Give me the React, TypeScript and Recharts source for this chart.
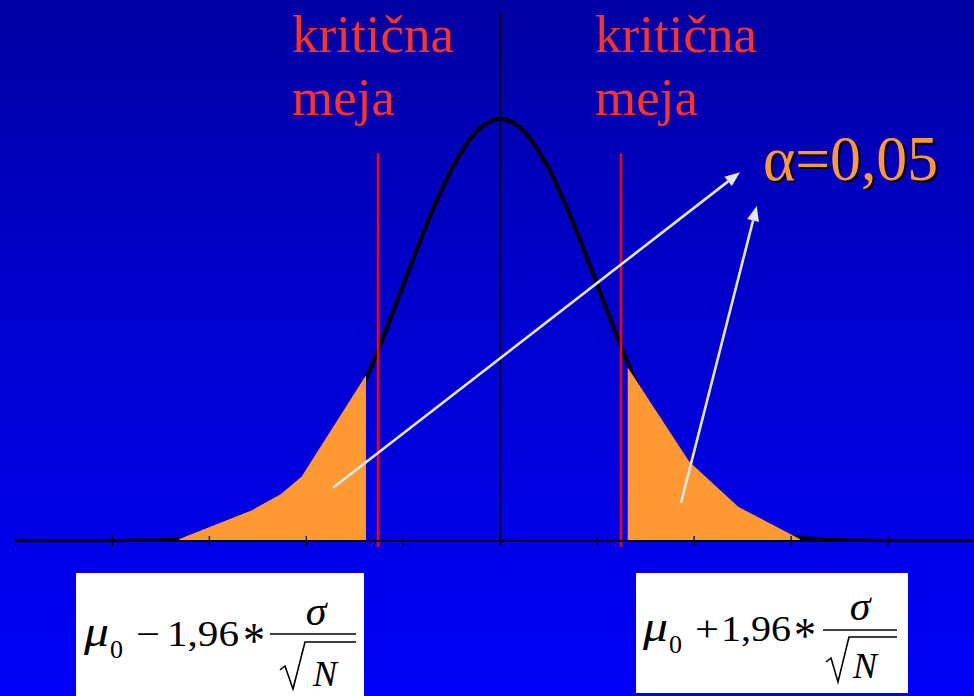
import React from 'react';
import { ComposedChart, Area, XAxis, YAxis, ReferenceLine } from 'recharts';

// z (in sigma units) and relative curve height
const zPoints = [-5, -4.75, -4.5, -4.25, -4, -3.75, -3.5, -3.25, -3, -2.75, -2.5, -2.25, -2, -1.75, -1.5, -1.25, -1, -0.75, -0.5, -0.25, 0, 0.25, 0.5, 0.75, 1, 1.25, 1.5, 1.75, 2, 2.25, 2.5, 2.75, 3, 3.25, 3.5, 3.75, 4, 4.25, 4.5, 4.75, 5];
const curveHeights = [0, 0, 0, 0, 0, 0.001, 0.002, 0.005, 0.011, 0.023, 0.044, 0.08, 0.135, 0.216, 0.325, 0.458, 0.607, 0.755, 0.882, 0.969, 1.0, 0.969, 0.882, 0.755, 0.607, 0.458, 0.325, 0.216, 0.135, 0.08, 0.044, 0.023, 0.011, 0.005, 0.002, 0.001, 0, 0, 0, 0, 0];

// shaded rejection regions (polygon vertices)
const leftTailX = [-3.31, -2.56, -2.265, -2.05, -1.385, -1.385];
const leftTailY = [0.005, 0.073, 0.111, 0.152, 0.393, 0.005];
const rightTailX = [1.315, 1.315, 1.95, 2.455, 3.09];
const rightTailY = [0.005, 0.411, 0.188, 0.081, 0.005];

const tickValues = [-5, -4, -3, -2, -1, 0, 1, 2, 3, 4, 5];

// critical limits
const criticalLow = -1.261;
const criticalHigh = 1.245;
const criticalTop = 0.919;
const criticalBottom = -0.0142;

// arrows pointing to alpha label: [fromX, fromY, toX, toY]
const arrowLeft = [-1.725, 0.126, 2.473, 0.874];
const arrowRight = [1.864, 0.09, 2.646, 0.794];

const labelTop = 'kritična';
const labelBottom = 'meja';
const alphaLabel = 'α=0,05';

const curveData = zPoints.map((z, i) => ({ z, y: curveHeights[i] }));
const leftTail = leftTailX.map((z, i) => ({ z, y: leftTailY[i] }));
const rightTail = rightTailX.map((z, i) => ({ z, y: rightTailY[i] }));

const CrossTick = (props: any) => {
  const { x, y } = props;
  return <line x1={x} x2={x} y1={y - 5} y2={y + 5} stroke="#000" strokeWidth={1.3} />;
};

const ArrowShape = (props: any) => {
  const { x1, y1, x2, y2 } = props;
  const ang = Math.atan2(y2 - y1, x2 - x1);
  const len = 15;
  const hw = 6;
  const bx = x2 - len * Math.cos(ang);
  const by = y2 - len * Math.sin(ang);
  const px = -Math.sin(ang) * hw;
  const py = Math.cos(ang) * hw;
  return (
    <g>
      <line x1={x1} y1={y1} x2={bx} y2={by} stroke="#E6E6E6" strokeWidth={2.6} />
      <path d={`M${x2},${y2} L${bx + px},${by + py} L${bx - px},${by - py} Z`} fill="#E6E6E6" />
    </g>
  );
};

const serif = "'Liberation Serif', 'DejaVu Serif', 'Times New Roman', Times, serif";
const fs = { fontFamily: serif };

export default function App() {
  return (
    <div
      style={{
        position: 'absolute',
        left: 0,
        top: 0,
        width: 974,
        height: 696,
        overflow: 'hidden',
        fontFamily: serif,
        background: 'linear-gradient(to bottom, #0000A2 0%, #0000C2 30%, #0000DA 60%, #0000EA 80%, #0000F8 100%)',
      }}
    >
      <ComposedChart
        width={1000}
        height={696}
        margin={{ top: 12, right: 15, bottom: 125, left: 15.5 }}
      >
        <XAxis
          dataKey="z"
          type="number"
          domain={[-5, 5]}
          ticks={tickValues}
          allowDataOverflow
          axisLine={{ stroke: '#000', strokeWidth: 2 }}
          tickLine={false}
          tickSize={0}
          tickMargin={0}
          tick={<CrossTick />}
          height={30}
        />
        <YAxis type="number" domain={[0, 1.2536]} allowDataOverflow hide />
        <Area
          data={curveData}
          dataKey="y"
          type="monotone"
          stroke="#000"
          strokeWidth={4}
          fill="none"
          fillOpacity={0}
          dot={false}
          activeDot={false}
          isAnimationActive={false}
        />
        <Area
          data={leftTail}
          dataKey="y"
          type="linear"
          stroke="none"
          fill="#FF9933"
          fillOpacity={1}
          isAnimationActive={false}
        />
        <Area
          data={rightTail}
          dataKey="y"
          type="linear"
          stroke="none"
          fill="#FF9933"
          fillOpacity={1}
          isAnimationActive={false}
        />
        <ReferenceLine x={0} stroke="#000" strokeWidth={1.2} />
        <ReferenceLine
          segment={[{ x: criticalLow, y: criticalBottom }, { x: criticalLow, y: criticalTop }]}
          stroke="#FF0000"
          strokeWidth={2.5}
          ifOverflow="visible"
        />
        <ReferenceLine
          segment={[{ x: criticalHigh, y: criticalBottom }, { x: criticalHigh, y: criticalTop }]}
          stroke="#FF0000"
          strokeWidth={2.5}
          ifOverflow="visible"
        />
        <ReferenceLine
          segment={[{ x: arrowLeft[0], y: arrowLeft[1] }, { x: arrowLeft[2], y: arrowLeft[3] }]}
          ifOverflow="visible"
          shape={ArrowShape}
        />
        <ReferenceLine
          segment={[{ x: arrowRight[0], y: arrowRight[1] }, { x: arrowRight[2], y: arrowRight[3] }]}
          ifOverflow="visible"
          shape={ArrowShape}
        />
      </ComposedChart>
      <svg
        width={974}
        height={696}
        style={{ position: 'absolute', left: 0, top: 0, pointerEvents: 'none', fontFamily: serif }}
      >
        <g fill="#FF3322" fontSize={53} style={fs}>
          <text x={292} y={52} textLength={162} lengthAdjust="spacingAndGlyphs" style={fs}>{labelTop}</text>
          <text x={292} y={115} textLength={103} lengthAdjust="spacingAndGlyphs" style={fs}>{labelBottom}</text>
          <text x={595} y={52} textLength={162} lengthAdjust="spacingAndGlyphs" style={fs}>{labelTop}</text>
          <text x={595} y={115} textLength={103} lengthAdjust="spacingAndGlyphs" style={fs}>{labelBottom}</text>
        </g>
        <text
          x={763}
          y={180}
          fontSize={64}
          fill="#FF9933"
          textLength={175}
          lengthAdjust="spacingAndGlyphs"
          style={{ fontFamily: serif, filter: 'drop-shadow(2.5px 2.5px 0px #000)' }}
        >
          {alphaLabel}
        </text>

        {/* left formula */}
        <rect x={76} y={573} width={288} height={123} fill="#fff" />
        <g fill="#000" style={fs}>
          <text x={84} y={646} fontSize={44} fontStyle="italic" textLength={25} lengthAdjust="spacingAndGlyphs" style={fs}>μ</text>
          <text x={110} y={658} fontSize={26} style={fs}>0</text>
          <text x={136} y={646} fontSize={35} textLength={24} lengthAdjust="spacingAndGlyphs" style={fs}>−</text>
          <text x={167} y={646} fontSize={36} textLength={72} lengthAdjust="spacingAndGlyphs" style={fs}>1,96</text>
          <text x={243} y={657} fontSize={50} textLength={22} lengthAdjust="spacingAndGlyphs" style={fs}>*</text>
          <text x={316} y={625} fontSize={42} fontStyle="italic" textAnchor="middle" style={fs}>σ</text>
          <text x={313} y={686} fontSize={36} fontStyle="italic" style={fs}>N</text>
        </g>
        <line x1={270} x2={356} y1={634} y2={634} stroke="#000" strokeWidth={1.5} />
        <path d="M280,670 L285,666 L293,689 L305,642 L356,642" stroke="#000" strokeWidth={1.6} fill="none" />

        {/* right formula */}
        <rect x={636} y={573} width={272} height={120} fill="#fff" />
        <g fill="#000" style={fs}>
          <text x={643} y={641} fontSize={44} fontStyle="italic" textLength={25} lengthAdjust="spacingAndGlyphs" style={fs}>μ</text>
          <text x={669} y={653} fontSize={26} style={fs}>0</text>
          <text x={695} y={641} fontSize={35} textLength={24} lengthAdjust="spacingAndGlyphs" style={fs}>+</text>
          <text x={721} y={641} fontSize={36} textLength={70} lengthAdjust="spacingAndGlyphs" style={fs}>1,96</text>
          <text x={794} y={652} fontSize={50} textLength={22} lengthAdjust="spacingAndGlyphs" style={fs}>*</text>
          <text x={860} y={620} fontSize={42} fontStyle="italic" textAnchor="middle" style={fs}>σ</text>
          <text x={853} y={678} fontSize={36} fontStyle="italic" style={fs}>N</text>
        </g>
        <line x1={823} x2={897} y1={630} y2={630} stroke="#000" strokeWidth={1.5} />
        <path d="M826,662 L831,658 L838,682 L849,637 L897,637" stroke="#000" strokeWidth={1.6} fill="none" />
      </svg>
    </div>
  );
}
